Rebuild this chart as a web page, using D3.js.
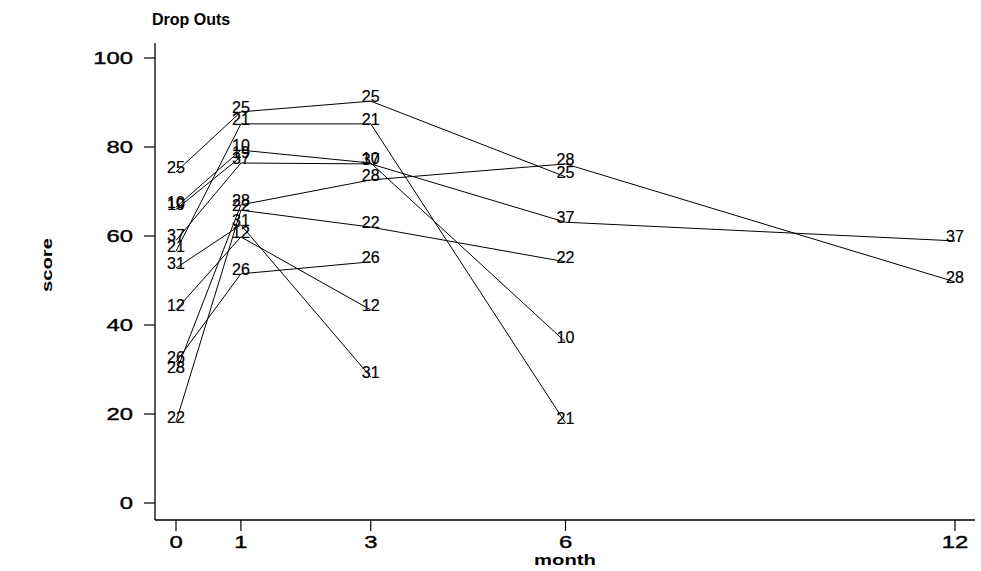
<!DOCTYPE html>
<html>
<head>
<meta charset="utf-8">
<script src="https://cdn.jsdelivr.net/npm/d3@7"></script>
<style>
  body { margin: 0; background: #fff; }
  text { font-family: "Liberation Sans", Arial, sans-serif; fill: #000; }
</style>
</head>
<body>
<div id="chart"></div>
<script>
//------------------------------------------------------------------------ Data
var months = [0, 1, 3, 6, 12];
var yTicks = [0, 20, 40, 60, 80, 100];
var subjects = ["10", "12", "19", "21", "22", "25", "26", "28", "31", "37"];
// score per subject at months 0,1,3,6,12 (null = dropped out)
var scores = [
  [66.5, 79.3, 76.4, 36.2, null],
  [43.4, 59.8, 43.4, null, null],
  [66.0, 77.8, null, null, null],
  [56.6, 85.2, 85.2, 18.0, null],
  [18.2, 65.8, 62.0, 54.2, null],
  [74.4, 87.9, 90.3, 73.3, null],
  [31.7, 51.5, 54.2, null, null],
  [29.4, 67.0, 72.6, 76.2, 49.7],
  [52.8, 62.5, 28.3, null, null],
  [59.0, 76.4, 76.2, 63.1, 58.9]
];

//------------------------------------------------------------------------ Functions
function newSvg(target, w, h){
  return d3.select(target).append("svg")
    .attr("width", w)
    .attr("height", h);
}

//------------------------------------------------------------------------ Setup
var svg = newSvg("#chart", 981, 571);
svg.append("rect").attr("width", 981).attr("height", 571).attr("fill", "#fff");

var x = d3.scaleLinear().domain([0, 12]).range([176, 955]);
var y = d3.scaleLinear().domain([0, 100]).range([503, 58]);
var axisX = 155, axisY = 520;

//title
svg.append("text")
  .attr("x", 152).attr("y", 25)
  .attr("font-size", 16).attr("font-weight", "bold")
  .text("Drop Outs");

//y axis
svg.append("line")
  .attr("x1", axisX).attr("x2", axisX)
  .attr("y1", 43).attr("y2", axisY)
  .attr("stroke", "#000").attr("stroke-width", 1.3);

var yt = svg.selectAll(".ytick").data(yTicks).enter().append("g")
  .attr("transform", function(d){ return "translate(0," + y(d) + ")"; });
yt.append("line").attr("x1", axisX - 11).attr("x2", axisX)
  .attr("stroke", "#000").attr("stroke-width", 1.2);
yt.append("text")
  .attr("transform", "translate(133,6) scale(1.4,1)")
  .attr("text-anchor", "end")
  .attr("font-size", 17)
  .attr("stroke", "#000").attr("stroke-width", 0.4)
  .text(function(d){ return d; });

//x axis
svg.append("line")
  .attr("x1", axisX).attr("x2", 975)
  .attr("y1", axisY).attr("y2", axisY)
  .attr("stroke", "#000").attr("stroke-width", 1.3);

var xt = svg.selectAll(".xtick").data(months).enter().append("g")
  .attr("transform", function(d){ return "translate(" + x(d) + "," + axisY + ")"; });
xt.append("line").attr("y1", 0).attr("y2", 11)
  .attr("stroke", "#000").attr("stroke-width", 1.2);
xt.append("text")
  .attr("transform", "translate(0,28) scale(1.4,1)")
  .attr("text-anchor", "middle")
  .attr("font-size", 17)
  .attr("stroke", "#000").attr("stroke-width", 0.4)
  .text(function(d){ return d; });

//axis titles
svg.append("text")
  .attr("transform", "translate(565,565) scale(1.35,1)")
  .attr("text-anchor", "middle")
  .attr("font-size", 15).attr("font-weight", "bold")
  .text("month");

svg.append("text")
  .attr("transform", "translate(52,265) rotate(-90) scale(1.35,1)")
  .attr("text-anchor", "middle")
  .attr("font-size", 15).attr("font-weight", "bold")
  .text("score");

//------------------------------------------------------------------------ Lines + labels
var line = d3.line()
  .defined(function(d){ return d.v != null; })
  .x(function(d){ return x(d.m); })
  .y(function(d){ return y(d.v); });

subjects.forEach(function(id, i){
  var pts = months.map(function(m, j){ return {m: m, v: scores[i][j]}; });
  svg.append("path")
    .attr("d", line(pts))
    .attr("fill", "none")
    .attr("stroke", "#000")
    .attr("stroke-width", 1);

  svg.selectAll(".lab" + id)
    .data(pts.filter(function(d){ return d.v != null; }))
    .enter().append("text")
    .attr("x", function(d){ return x(d.m); })
    .attr("y", function(d){ return y(d.v) + 1; })
    .attr("text-anchor", "middle")
    .attr("font-size", 16)
    .attr("stroke", "#000").attr("stroke-width", 0.2)
    .text(id);
});
</script>
</body>
</html>
